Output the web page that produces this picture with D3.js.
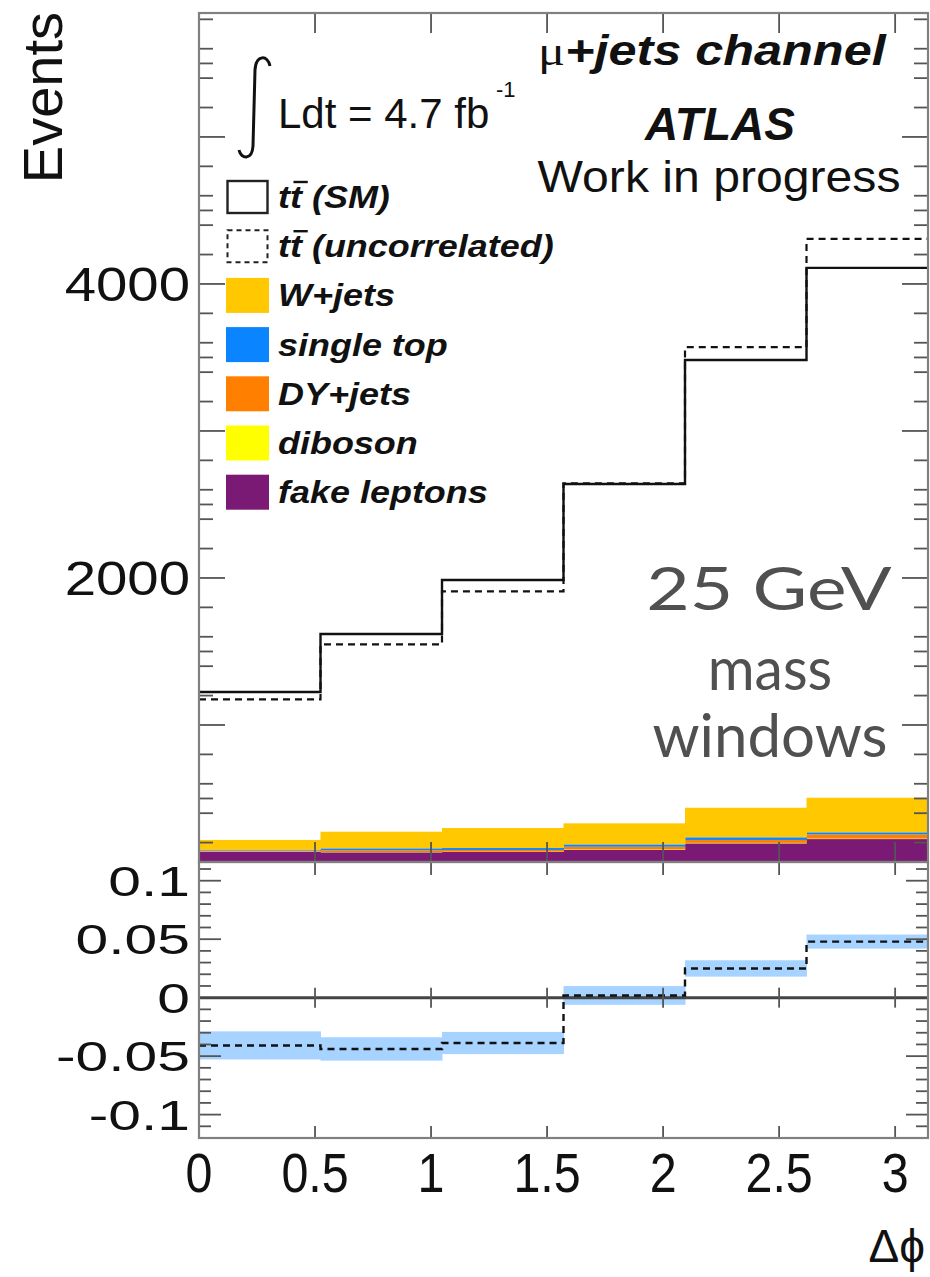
<!DOCTYPE html>
<html>
<head>
<meta charset="utf-8">
<script src="https://cdn.jsdelivr.net/npm/d3@7"></script>
<style>
  html, body { margin: 0; padding: 0; background: #fff; }
  svg { display: block; }
</style>
</head>
<body>
<svg id="chart" width="930" height="1277"></svg>
<script>
// ---- data -------------------------------------------------------------
const binEdges     = [0, 0.5236, 1.0472, 1.5708, 2.0944, 2.6180, 3.1416];
const ttSM         = [1224, 1619, 1986, 2639, 3483, 4109];
const ttUncorr     = [1174, 1548, 1909, 2644, 3570, 4306];
const fakeLeptons  = [136, 134, 136, 150, 195, 224];
const diboson      = [2, 2, 2, 3, 3, 3];
const dyJets       = [8, 12, 12, 19, 20, 29];
const singleTop    = [6, 13, 13, 16, 18, 14];
const wJets        = [66, 113, 136, 143, 201, 235];
const ratioErr     = [0.012, 0.010, 0.0095, 0.008, 0.007, 0.006];
const xTickValues  = [0, 0.5, 1, 1.5, 2, 2.5, 3];
const yTickLabels  = [2000, 4000];
const ratioTicks   = [0.1, 0.05, 0, -0.05, -0.1];

const stackKeys   = ["fake", "diboson", "dy", "singleTop", "wjets"];
const stackColors = { fake: "#7a1a74", diboson: "#ffff00", dy: "#ff8000",
                      singleTop: "#0a84ff", wjets: "#ffc800" };

const legendItems = [
  { label: " (SM)", kind: "line" },
  { label: " (uncorrelated)", kind: "dash" },
  { label: "W+jets", color: stackColors.wjets },
  { label: "single top", color: stackColors.singleTop },
  { label: "DY+jets", color: stackColors.dy },
  { label: "diboson", color: stackColors.diboson },
  { label: "fake leptons", color: stackColors.fake }
];

// ---- layout -----------------------------------------------------------
const FONT = "'Liberation Sans', Arial, Helvetica, sans-serif";
const xL = 199, xR = 928;
const mainTop = 13, mainBot = 862;
const ratTop = 862, ratBot = 1138;

const svg = d3.select("#chart");
const x = d3.scaleLinear().domain([0, 3.1416]).range([xL, xR]);
const y = d3.scaleLinear().domain([68, 5843]).range([mainBot, mainTop]);
const yr = d3.scaleLinear().domain([-0.12, 0.116]).range([ratBot, ratTop]);

const defs = svg.append("defs");
defs.append("clipPath").attr("id", "clipMain")
  .append("rect").attr("x", xL).attr("y", mainTop).attr("width", xR - xL).attr("height", mainBot - mainTop);
defs.append("clipPath").attr("id", "clipRatio")
  .append("rect").attr("x", xL).attr("y", ratTop).attr("width", xR - xL).attr("height", ratBot - ratTop);

function label(g, px, py, str, o = {}) {
  return g.append("text")
    .attr("transform", `translate(${px},${py}) scale(${o.sx || 1},1)` + (o.rot ? ` rotate(${o.rot})` : ""))
    .attr("font-family", o.family || FONT)
    .attr("font-size", o.size || 40)
    .attr("font-weight", o.weight || "normal")
    .attr("font-style", o.style || "normal")
    .attr("fill", o.fill || "#000")
    .attr("text-anchor", o.anchor || "start")
    .text(str);
}

// ---- main panel: stacked backgrounds ----------------------------------
const rows = binEdges.slice(0, -1).map((lo, i) => ({
  lo, hi: binEdges[i + 1],
  fake: fakeLeptons[i], diboson: diboson[i], dy: dyJets[i],
  singleTop: singleTop[i], wjets: wJets[i]
}));
const stacked = d3.stack().keys(stackKeys)(rows);

const gMain = svg.append("g").attr("clip-path", "url(#clipMain)");
stacked.forEach(layer => {
  gMain.append("g").selectAll("rect").data(layer).join("rect")
    .attr("x", d => x(d.data.lo))
    .attr("width", d => x(d.data.hi) - x(d.data.lo) + 0.5)
    .attr("y", d => y(d[1]))
    .attr("height", d => Math.max(0, y(d[0]) - y(d[1])))
    .attr("fill", stackColors[layer.key]);
});

// ---- main panel: ttbar step histograms --------------------------------
function stepPoints(vals) {
  const pts = vals.map((v, i) => [binEdges[i], v]);
  pts.push([binEdges[binEdges.length - 1], vals[vals.length - 1]]);
  return pts;
}
const lineMain = d3.line().x(d => x(d[0])).y(d => y(d[1])).curve(d3.curveStepAfter);
gMain.append("path").attr("d", lineMain(stepPoints(ttUncorr)))
  .attr("fill", "none").attr("stroke", "#111").attr("stroke-width", 2.2)
  .attr("stroke-dasharray", "7,5");
gMain.append("path").attr("d", lineMain(stepPoints(ttSM)))
  .attr("fill", "none").attr("stroke", "#111").attr("stroke-width", 2.4);

// ---- ratio panel ------------------------------------------------------
const ratio = ttUncorr.map((v, i) => v / ttSM[i] - 1);
const gRat = svg.append("g").attr("clip-path", "url(#clipRatio)");
gRat.selectAll("rect.band").data(ratio).join("rect").attr("class", "band")
  .attr("x", (d, i) => x(binEdges[i]))
  .attr("width", (d, i) => x(binEdges[i + 1]) - x(binEdges[i]) + 0.5)
  .attr("y", (d, i) => yr(d + ratioErr[i]))
  .attr("height", (d, i) => yr(d - ratioErr[i]) - yr(d + ratioErr[i]))
  .attr("fill", "#a6d3ff");
gRat.append("line").attr("x1", xL).attr("x2", xR).attr("y1", yr(0)).attr("y2", yr(0))
  .attr("stroke", "#444").attr("stroke-width", 3);
const lineRat = d3.line().x(d => x(d[0])).y(d => yr(d[1])).curve(d3.curveStepAfter);
gRat.append("path").attr("d", lineRat(stepPoints(ratio)))
  .attr("fill", "none").attr("stroke", "#111").attr("stroke-width", 2.4)
  .attr("stroke-dasharray", "7,5");

// ---- axes, ticks and frames -------------------------------------------
const gAx = svg.append("g").attr("stroke", "#555").attr("stroke-width", 1.8);
function tick(x1, y1, x2, y2) {
  gAx.append("line").attr("x1", x1).attr("y1", y1).attr("x2", x2).attr("y2", y2);
}
// main y ticks (left and right)
for (let v = 200; v <= 5800; v += 100) {
  const major = v % 1000 === 0;
  const minor = v % 200 === 0 || v % 500 === 0;
  if (!major && !minor) continue;
  const len = major ? 26 : 14;
  tick(xL, y(v), xL + len, y(v));
  tick(xR, y(v), xR - len, y(v));
}
// ratio y ticks
for (let k = -11; k <= 11; k++) {
  const v = k / 100;
  if (k === 0) continue;
  const len = (k % 5 === 0) ? 22 : 12;
  tick(xL, yr(v), xL + len, yr(v));
  tick(xR, yr(v), xR - len, yr(v));
}
// x ticks on both panels
xTickValues.forEach(v => {
  const px = x(v);
  tick(px, mainTop, px, mainTop + 20);
  tick(px, mainBot, px, mainBot - 20);
  tick(px, ratTop, px, ratTop + 13);
  tick(px, ratBot, px, ratBot - 12);
  tick(px, yr(0) - 10, px, yr(0) + 10);
});
// frames
svg.append("rect").attr("x", xL).attr("y", mainTop).attr("width", xR - xL).attr("height", mainBot - mainTop)
  .attr("fill", "none").attr("stroke", "#808080").attr("stroke-width", 2.2);
svg.append("rect").attr("x", xL).attr("y", ratTop).attr("width", xR - xL).attr("height", ratBot - ratTop)
  .attr("fill", "none").attr("stroke", "#808080").attr("stroke-width", 2.2);

// ---- tick labels ------------------------------------------------------
const gLab = svg.append("g");
yTickLabels.forEach(v => label(gLab, 190, y(v) + 17.5, String(v), { size: 49, sx: 1.15, anchor: "end", fill: "#111" }));
ratioTicks.forEach(v => label(gLab, 190, yr(v) + 15, String(v), { size: 42, sx: 1.4, anchor: "end", fill: "#111" }));
xTickValues.forEach(v => label(gLab, x(v), 1192, String(v), { size: 55, sx: 0.88, anchor: "middle", fill: "#111" }));

// axis titles
label(gLab, 62, 12, "Events", { size: 56, rot: -90, anchor: "end", fill: "#111" });
label(gLab, 925, 1262, "\u0394\u03d5", { size: 46, anchor: "end", fill: "#111" });

// ---- annotations ------------------------------------------------------
// luminosity
svg.append("path")
  .attr("d", "M 270,66 C 268,55 256,54 255,70 L 253,146 C 252,161 241,159 239,150")
  .attr("fill", "none").attr("stroke", "#111").attr("stroke-width", 3);
label(svg, 278, 128, "Ldt = 4.7 fb", { size: 42, fill: "#111" });
label(svg, 496, 97, "-1", { size: 22, fill: "#111" });

// channel / experiment
const ch = svg.append("text").attr("transform", "translate(538,65) scale(1.2,1)")
  .attr("font-family", FONT).attr("font-size", 42).attr("fill", "#111");
ch.append("tspan").attr("font-family", "'Liberation Serif', 'DejaVu Serif', serif").attr("font-size", 42).text("\u03bc");
ch.append("tspan").attr("font-weight", "bold").attr("font-style", "italic").text("+jets channel");
label(svg, 720, 140, "ATLAS", { size: 46, weight: "bold", style: "italic", anchor: "middle", fill: "#111" });
label(svg, 719, 192, "Work in progress", { size: 45, sx: 1.07, anchor: "middle", fill: "#111" });

// mass window note
const noteFont = "Lato, 'Open Sans', sans-serif";
label(svg, 769, 610, "25 GeV", { size: 60, sx: 1.25, family: noteFont, anchor: "middle", fill: "#505050" });
label(svg, 770, 690, "mass", { size: 60, sx: 0.95, family: noteFont, anchor: "middle", fill: "#505050" });
label(svg, 770, 757, "windows", { size: 60, family: noteFont, anchor: "middle", fill: "#505050" });

// ---- legend -----------------------------------------------------------
const gLeg = svg.append("g");
const legX = 226, legW = 43, legH = 35, legY0 = 197, legDy = 49.2;
legendItems.forEach((it, i) => {
  const cy = legY0 + i * legDy;
  const box = gLeg.append("rect").attr("x", legX).attr("y", cy - legH / 2)
    .attr("width", legW).attr("height", legH);
  if (it.kind) {
    box.attr("x", legX + 1.5).attr("y", cy - legH / 2 + 1.5)
      .attr("width", legW - 3).attr("height", legH - 3)
      .attr("fill", "#fff").attr("stroke", "#222").attr("stroke-width", 2.4);
    if (it.kind === "dash") box.attr("stroke-dasharray", "5,4").attr("stroke-width", 2);
  } else {
    box.attr("fill", it.color);
  }
  const tf = `translate(278,${cy + 11}) scale(1.16,1)`;
  const t = gLeg.append("text")
    .attr("transform", tf)
    .attr("font-family", FONT).attr("font-size", 31)
    .attr("font-weight", "bold").attr("font-style", "italic").attr("fill", "#111");
  if (it.kind) {
    // t t-bar, then the label
    t.text("tt" + it.label);
    const node = t.node();
    const w1 = node.getSubStringLength(0, 1);
    const w2 = node.getSubStringLength(1, 1);
    gLeg.append("line")
      .attr("transform", tf)
      .attr("x1", w1 + 3).attr("x2", w1 + w2 + 5)
      .attr("y1", -26).attr("y2", -26)
      .attr("stroke", "#111").attr("stroke-width", 2.4);
  } else {
    t.text(it.label);
  }
});
</script>
</body>
</html>
